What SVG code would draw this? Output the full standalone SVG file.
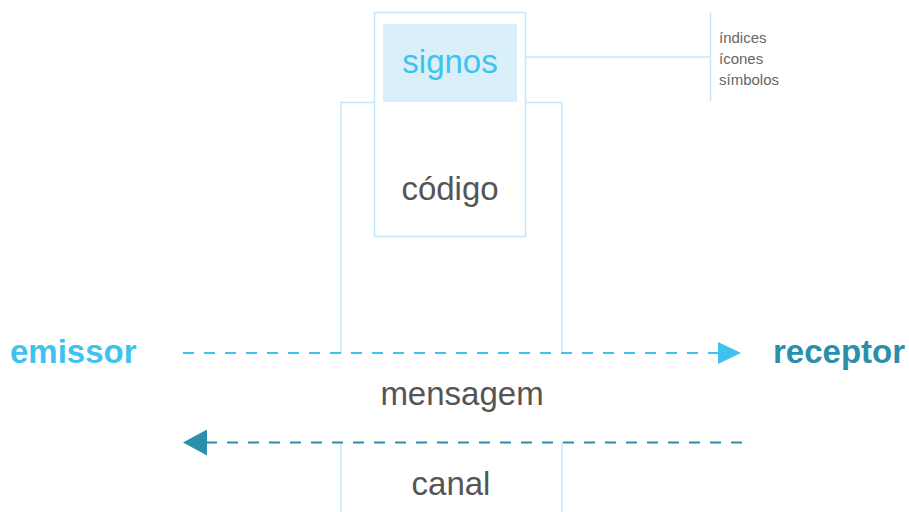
<svg xmlns="http://www.w3.org/2000/svg" width="909" height="512" viewBox="0 0 909 512">
<style>
.frame{fill:none;stroke:#c2e8f8;stroke-width:1.5}
.big{font-family:"Liberation Sans",Arial,sans-serif;font-size:33px;fill:#555555;text-anchor:middle}
.small{font-family:"Liberation Sans",Arial,sans-serif;font-size:15px;fill:#666666}
.bold{font-family:"Liberation Sans",Arial,sans-serif;font-size:33px;font-weight:bold}
</style>
<defs>
<marker id="arrA" markerWidth="24" markerHeight="24" refX="0" refY="11" orient="auto" markerUnits="userSpaceOnUse" viewBox="0 0 24 24">
<path d="M0,0 L23,11 L0,22 Z" fill="#3ec2ee"/>
</marker>
<marker id="arrB" markerWidth="26" markerHeight="26" refX="0" refY="13" orient="auto" markerUnits="userSpaceOnUse" viewBox="0 0 26 26">
<path d="M0,0 L24,13 L0,26 Z" fill="#2a8fab"/>
</marker>
</defs>
<g id="connectors">
<path class="frame" d="M341,353 V102.5 H374.5"/>
<path class="frame" d="M525.5,102.5 H562 V353"/>
<path class="frame" d="M341,442 V512"/>
<path class="frame" d="M562,442 V512"/>
<path class="frame" d="M525.5,57 H710.5"/>
<path class="frame" d="M710.5,12.5 V101"/>
<path d="M183,353 H718" stroke="#3ec2ee" stroke-width="2" stroke-dasharray="11,10" fill="none" marker-end="url(#arrA)"/>
<path d="M742,442.5 H207" stroke="#2a8fab" stroke-width="2.2" stroke-dasharray="11,10" fill="none" marker-end="url(#arrB)"/>
</g>
<g id="codigo">
<rect class="frame" x="374.5" y="12.5" width="151" height="224" fill="#ffffff"/>
<text class="big" x="450" y="200">código</text>
</g>
<g id="signos">
<rect x="383" y="24" width="134" height="78" fill="#d9f0fa"/>
<text class="big" x="450" y="73" style="fill:#3ec2ee">signos</text>
</g>
<g id="tipos">
<text class="small" x="719" y="43">índices</text>
<text class="small" x="719" y="64">ícones</text>
<text class="small" x="719" y="85">símbolos</text>
</g>
<g id="emissor">
<text class="bold" x="10" y="363" fill="#3ec2ee">emissor</text>
</g>
<g id="receptor">
<text class="bold" x="773" y="363" fill="#2a8fab">receptor</text>
</g>
<g id="mensagem">
<text class="big" x="462" y="405">mensagem</text>
</g>
<g id="canal">
<text class="big" x="451" y="495">canal</text>
</g>
</svg>
